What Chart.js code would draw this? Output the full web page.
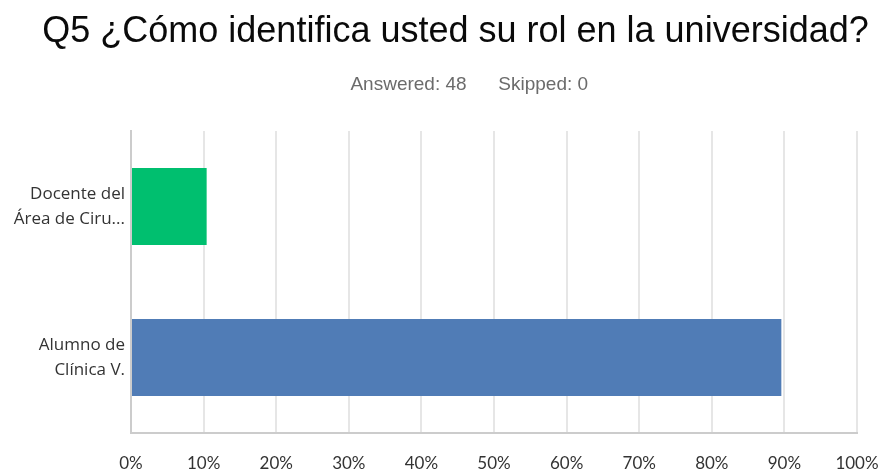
<!DOCTYPE html>
<html>
<head>
<meta charset="utf-8">
<script src="https://cdn.jsdelivr.net/npm/chart.js@4/dist/chart.umd.min.js"></script>
<style>
  html, body { margin: 0; padding: 0; background: #fff; }
  #wrap { width: 881px; height: 474px; }
</style>
</head>
<body>
<div id="wrap"><canvas id="q5Chart" width="881" height="474"></canvas></div>
<script>
const roles = [["Docente del", "Área de Ciru..."], ["Alumno de", "Clínica V."]];
const percents = [10.42, 89.58];
const barColors = ["#00bf6f", "#507cb6"];
const tickValues = [0, 10, 20, 30, 40, 50, 60, 70, 80, 90, 100];

const padLeft = 10;

const ctx = document.getElementById("q5Chart").getContext("2d");
new Chart(ctx, {
    type: "bar",
    data: {
        labels: roles,
        datasets: [{
            data: percents,
            backgroundColor: barColors,
            barPercentage: 0.51,
            categoryPercentage: 1
        }]
    },
    options: {
        indexAxis: "y",
        responsive: false,
        animation: false,
        layout: { padding: { top: 4, right: 0, left: padLeft, bottom: 0 } },
        plugins: {
            legend: { display: false },
            tooltip: { enabled: false },
            title: {
                display: true,
                text: "  Q5 ¿Cómo identifica usted su rol en la universidad?",
                color: "#0a0a0a",
                font: { family: "Liberation Sans", size: 36, weight: "normal" },
                padding: { top: 6, bottom: 20 }
            },
            subtitle: {
                display: true,
                text: "         Answered: 48      Skipped: 0",
                color: "#6b6b6b",
                font: { family: "Liberation Sans", size: 19 },
                padding: { top: 0, bottom: 35 }
            }
        },
        scales: {
            x: {
                min: 0,
                max: 100,
                afterBuildTicks: scale => {
                    scale.ticks = tickValues.map(v => ({ value: v }));
                },
                afterFit: scale => {
                    scale.height = 41;
                    scale.paddingRight = 24;
                },
                grid: { color: "#e6e6e6", lineWidth: 2, drawTicks: false },
                border: { color: "#cccccc", width: 2 },
                ticks: {
                    padding: 20,
                    color: "#333",
                    font: { family: "Lato", size: 17 },
                    callback: v => v + "%"
                }
            },
            y: {
                afterFit: scale => { scale.width = 131 - padLeft; },
                grid: { display: false, drawTicks: false },
                border: { color: "#cccccc", width: 2 },
                ticks: {
                    padding: 6,
                    color: "#333",
                    font: { family: "Open Sans", size: 17, lineHeight: 1.45 }
                }
            }
        }
    }
});
</script>
</body>
</html>
